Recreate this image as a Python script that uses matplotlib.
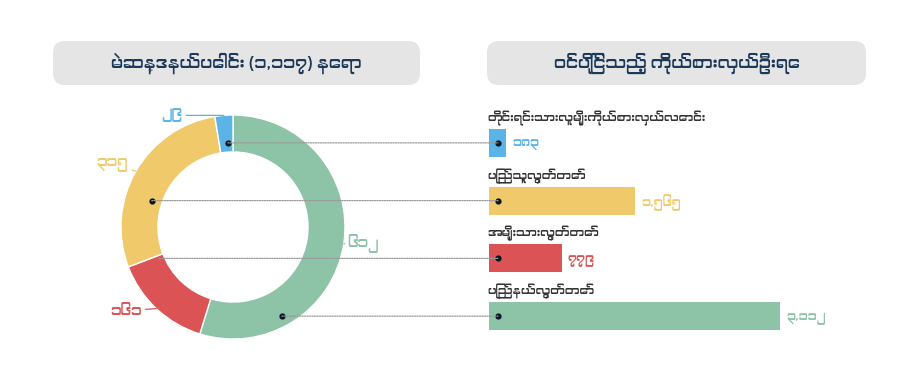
import numpy as np
import matplotlib
matplotlib.use("Agg")
import matplotlib.pyplot as plt
from matplotlib import font_manager
from matplotlib.patches import FancyBboxPatch, ConnectionPatch
from matplotlib.transforms import ScaledTranslation

# data
seat_names = ["ပြည်နယ်လွှတ်တော်", "အမျိုးသားလွှတ်တော်", "ပြည်သူ့လွှတ်တော်",
              "တိုင်းရင်းသားလူမျိုးကိုယ်စားလှယ်လောင်း"]
seat_counts = [612, 161, 315, 29]
seat_labels = ["၆၁၂", "၁၆၁", "၃၁၅", "၂၉"]

cand_names = ["တိုင်းရင်းသားလူမျိုးကိုယ်စားလှယ်လောင်း", "ပြည်သူ့လွှတ်တော်",
              "အမျိုးသားလွှတ်တော်", "ပြည်နယ်လွှတ်တော်"]
cand_counts = [183, 1565, 779, 3112]
cand_labels = ["၁၈၃", "၁,၅၆၅", "၇၇၉", "၃,၁၁၂"]

left_title = "မဲဆန္ဒနယ်ပေါင်း (၁,၁၁၇) နေရာ"
right_title = "ဝင်ပြိုင်သည့် ကိုယ်စားလှယ်ဦးရေ"

# style
pie_colors = ["#8DC3A7", "#DC5356", "#F0CA6A", "#5AB4E5"]
bar_colors = ["#5AB4E5", "#F0CA6A", "#DC5356", "#8DC3A7"]
title_color = "#1B3A5A"
dot_color = "#0A1622"

# font: use a Myanmar font if one is installed
names = set(f.name for f in font_manager.fontManager.ttflist)
families = [n for n in names if "Myanmar" in n or "Padauk" in n]
plt.rcParams["font.family"] = families + ["DejaVu Sans"]

W, H = 922, 388
fig = plt.figure(figsize=(W / 100, H / 100), dpi=100)

# background overlay in pixel coordinates
bg = fig.add_axes([0, 0, 1, 1], zorder=0)
bg.set_xlim(0, W)
bg.set_ylim(H, 0)
bg.axis("off")
for x0, x1, txt in [(53, 420, left_title), (487, 866, right_title)]:
    bg.add_patch(FancyBboxPatch((x0, 41), x1 - x0, 44,
                                boxstyle="round,pad=0,rounding_size=12",
                                fc="#E5E5E5", ec="none"))
    bg.text((x0 + x1) / 2, 63, txt, ha="center", va="center",
            fontsize=12, fontweight="bold", color=title_color)

# donut
cx, cy, R = 233, 227, 112
half = 130
axp = fig.add_axes([(cx - half) / W, (H - cy - half) / H, 2 * half / W, 2 * half / H], zorder=2)
wedges, _ = axp.pie(seat_counts, colors=pie_colors, startangle=90, counterclock=False,
                    radius=1, wedgeprops=dict(width=0.33, edgecolor="white", linewidth=1))
axp.set_xlim(-half / R, half / R)
axp.set_ylim(-half / R, half / R)
axp.set_aspect("equal")
axp.axis("off")

# pie value labels with leader lines
label_offsets = [(4, 1, "left"), (-15, -2, "right"), (-8, 6, "right"), (-42, 0, "right")]
for w, lab, col, (ox, oy, ha) in zip(wedges, seat_labels, pie_colors, label_offsets):
    ang = np.deg2rad((w.theta1 + w.theta2) / 2)
    px, py = np.cos(ang), np.sin(ang)
    axp.annotate(lab, xy=(px, py), xytext=(ox, oy), textcoords="offset pixels",
                 ha=ha, va="center", fontsize=10.5, fontweight="light", color=col,
                 arrowprops=dict(arrowstyle="-", color=col, lw=0.9, shrinkA=1, shrinkB=0))

# bars
bar_h = 0.485
axb = fig.add_axes([489 / W, (H - 345) / H, 291 / W, 231 / H], zorder=2)
ypos = np.arange(len(cand_counts))
axb.barh(ypos, cand_counts, height=bar_h, color=bar_colors)
axb.set_xlim(0, max(cand_counts))
axb.set_ylim(len(cand_counts) - 0.5, -0.5)
axb.axis("off")
for i, (name, val, lab, col) in enumerate(zip(cand_names, cand_counts, cand_labels, bar_colors)):
    axb.annotate(name, xy=(0, i - bar_h / 2), xytext=(-2, 3), textcoords="offset pixels",
                 ha="left", va="bottom", fontsize=8.5, fontweight="light",
                 color="#333333", annotation_clip=False)
    axb.annotate(lab, xy=(val, i), xytext=(6, -2), textcoords="offset pixels",
                 ha="left", va="center", fontsize=9, fontweight="light",
                 color=col, annotation_clip=False)

# connectors from donut to bars
bar_dot = axb.transData + ScaledTranslation(9 / 100, 0, fig.dpi_scale_trans)
conn_x = [-0.045, -0.725, -0.66, 0.4375]   # start x on donut for each bar row
show_dot = [True, True, False, True]
fig.canvas.draw()
for i in range(len(cand_counts)):
    disp = bar_dot.transform((0, i))
    yd = axp.transData.inverted().transform(disp)[1]
    con = ConnectionPatch(xyA=(conn_x[i], yd), coordsA=axp.transData,
                          xyB=(0, i), coordsB=bar_dot,
                          color="#9A9A9A", lw=0.9, linestyle=(0, (1, 1)), zorder=3)
    fig.add_artist(con)
    if show_dot[i]:
        axp.plot(conn_x[i], yd, "o", color=dot_color, mec="none", ms=4.5, zorder=5)
    axb.plot(0, i, "o", color=dot_color, mec="none", ms=4.5, transform=bar_dot,
             zorder=5, clip_on=False)

fig.savefig("out.png", dpi=100)
